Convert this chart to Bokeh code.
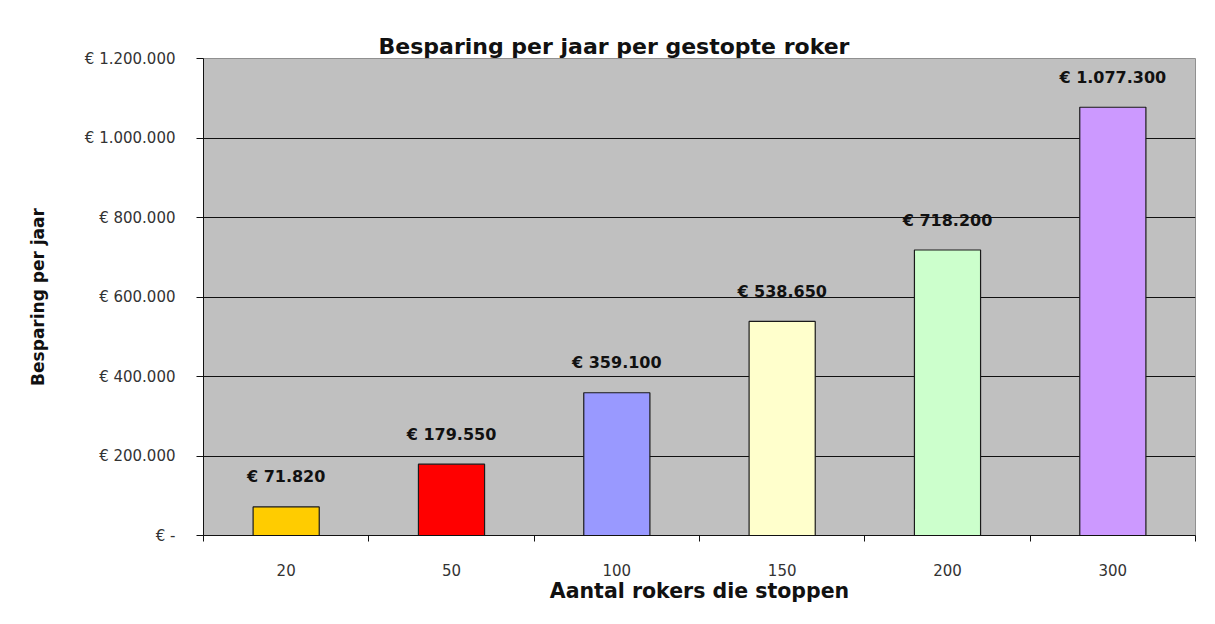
from bokeh.plotting import figure
from bokeh.models import ColumnDataSource, LabelSet, FixedTicker, Range1d
from bokeh.core.properties import value
from bokeh.embed import file_html
from bokeh.resources import INLINE

# ---- data ----
categories = ["20", "50", "100", "150", "200", "300"]
savings = [71820, 179550, 359100, 538650, 718200, 1077300]
bar_colors = ["#FFCC00", "#FF0000", "#9999FF", "#FFFFCC", "#CCFFCC", "#CC99FF"]
y_ticks = [0, 200000, 400000, 600000, 800000, 1000000, 1200000]
y_tick_labels = ["€ -", "€ 200.000", "€ 400.000", "€ 600.000", "€ 800.000",
                 "€ 1.000.000", "€ 1.200.000"]

title_text = "Besparing per jaar per gestopte roker"
x_title = "Aantal rokers die stoppen"
y_title = "Besparing per jaar"

def euro(v):
    return "€ " + f"{v:,}".replace(",", ".")

xs = [i + 0.5 for i in range(len(categories))]
src = ColumnDataSource(dict(x=xs, top=savings, color=bar_colors,
                            label=[euro(v) for v in savings]))

W, H = 1199, 608
FL, FT, FW, FH = 203, 58, 992, 477
p = figure(width=W, height=H, output_backend="svg", toolbar_location=None,
           x_range=Range1d(0, len(categories)), y_range=Range1d(0, 1200000),
           min_border_left=FL, min_border_right=W - FL - FW, min_border_top=FT,
           min_border_bottom=H - FT - FH)
p.frame_width = FW
p.frame_height = FH

p.background_fill_color = "#C0C0C0"
p.border_fill_color = "white"
p.outline_line_color = "#909090"
p.outline_line_width = 1

p.vbar(x="x", top="top", width=0.4, bottom=0, fill_color="color",
       line_color="#1a1a1a", line_width=1.2, source=src)

labels = LabelSet(x="x", y="top", text="label", source=src, text_align="center",
                  text_baseline="middle", y_offset=30, text_font=value("DejaVu Sans"),
                  text_font_style="bold", text_font_size="16px", text_color="#111111")
p.add_layout(labels)

# axes
ax = p.xaxis[0]
ax.ticker = FixedTicker(ticks=xs, minor_ticks=list(range(len(categories) + 1)))
ax.major_label_overrides = {x: c for x, c in zip(xs, categories)}
ax.major_tick_line_color = None
ax.major_tick_out = 0
ax.major_tick_in = 0
ax.minor_tick_out = 6
ax.minor_tick_in = 0
ax.minor_tick_line_color = "#111111"
ax.axis_line_color = "#111111"
ax.major_label_text_font = "DejaVu Sans"
ax.major_label_text_font_size = "15px"
ax.major_label_text_color = "#333333"
ax.major_label_standoff = 22
ax.axis_label = x_title
ax.axis_label_text_font = "DejaVu Sans"
ax.axis_label_text_font_style = "bold"
ax.axis_label_text_font_size = "20.5px"
ax.axis_label_text_color = "#111111"
ax.axis_label_standoff = 0

ay = p.yaxis[0]
ay.ticker = FixedTicker(ticks=y_ticks, minor_ticks=[])
ay.major_label_overrides = {t: l for t, l in zip(y_ticks, y_tick_labels)}
ay.major_tick_out = 7
ay.major_tick_in = 0
ay.major_tick_line_color = "#111111"
ay.axis_line_color = "#111111"
ay.major_label_text_font = "DejaVu Sans"
ay.major_label_text_font_size = "15px"
ay.major_label_text_color = "#333333"
ay.major_label_standoff = 21
ay.axis_label = y_title
ay.axis_label_text_font = "DejaVu Sans"
ay.axis_label_text_font_style = "bold"
ay.axis_label_text_font_size = "17px"
ay.axis_label_text_color = "#111111"
ay.axis_label_standoff = 34

p.xgrid.grid_line_color = None
p.ygrid.ticker = FixedTicker(ticks=y_ticks)
p.ygrid.grid_line_color = "#111111"
p.ygrid.grid_line_width = 1

p.title.text = title_text
p.title.align = "left"
p.title.offset = 175
p.title.text_font = "DejaVu Sans"
p.title.text_font_style = "bold"
p.title.text_font_size = "22px"
p.title.text_color = "#111111"
p.title.standoff = 0

open("out.html", "w").write(file_html(p, INLINE))
